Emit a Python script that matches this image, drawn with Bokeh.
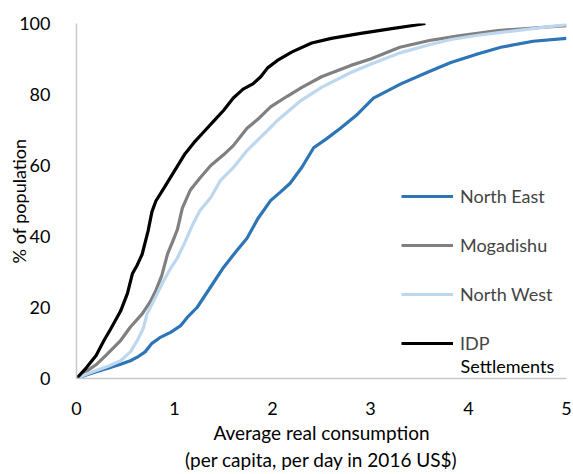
from bokeh.plotting import figure
from bokeh.models import Legend, LegendItem, FixedTicker, Label
from bokeh.embed import file_html
from bokeh.resources import INLINE

# Data
ne_x = [0, 0.1, 0.21, 0.33, 0.45, 0.55, 0.62, 0.7, 0.77, 0.85, 0.96, 1.06, 1.13, 1.23, 1.35, 1.5, 1.62, 1.74,
        1.85, 1.98, 2.08, 2.18, 2.3, 2.42, 2.55, 2.69, 2.85, 3.03, 3.31, 3.6, 3.82, 4.1, 4.33, 4.66, 5.0]
ne_y = [0, 1, 2, 3, 4, 5, 6, 7.5, 9.9, 11.5, 13, 14.8, 17.2, 20, 25, 31.3, 35.5, 39.5,
        45, 50.1, 52.5, 55, 59.5, 65, 67.5, 70.4, 74, 79, 83, 86.5, 89, 91.5, 93.3, 95, 95.8]

mog_x = [0, 0.1, 0.21, 0.3, 0.45, 0.55, 0.67, 0.75, 0.81, 0.87, 0.93, 0.98, 1.03, 1.08, 1.16, 1.26, 1.37, 1.5,
         1.6, 1.74, 1.85, 1.98, 2.15, 2.3, 2.5, 2.8, 3.0, 3.3, 3.6, 3.9, 4.3, 4.7, 5.0]
mog_y = [0, 2, 4.1, 6.5, 10.7, 14.5, 18.2, 21.5, 24.8, 29, 35.2, 38.5, 42, 48, 53, 56.5, 60, 63,
         65.6, 70.5, 73, 76.5, 79.5, 82, 85, 88.2, 90, 93.3, 95.2, 96.5, 98, 98.8, 99.4]

nw_x = [0, 0.1, 0.21, 0.33, 0.45, 0.55, 0.62, 0.68, 0.72, 0.8, 0.89, 0.96, 1.03, 1.1, 1.19, 1.26, 1.37, 1.47,
        1.6, 1.74, 1.95, 2.05, 2.29, 2.5, 2.8, 3.0, 3.31, 3.6, 3.82, 4.1, 4.33, 4.7, 5.0]
nw_y = [0, 1.2, 2.3, 3.5, 5, 7.5, 10.7, 14, 18.2, 22.5, 27.6, 31, 34, 38, 43.6, 47.3, 51, 55.8,
        59.4, 64.2, 69.9, 72.7, 78.3, 82, 86.2, 88.5, 91.8, 94, 95.5, 96.7, 97.5, 98.7, 99.7]

idp_x = [0, 0.1, 0.2, 0.28, 0.35, 0.45, 0.52, 0.57, 0.62, 0.67, 0.73, 0.77, 0.81, 0.9, 1.0, 1.1, 1.2, 1.3,
         1.4, 1.5, 1.6, 1.7, 1.8, 1.88, 1.95, 2.05, 2.2, 2.4, 2.6, 2.9, 3.2, 3.45, 3.56]
idp_y = [0, 3, 6.5, 10.7, 14, 19, 24, 29.5, 32, 35, 41.5, 47, 50, 54, 58.5, 63, 66.5, 69.5,
         72.5, 75.5, 79, 81.5, 83, 85, 87.5, 89.6, 92, 94.5, 95.8, 97.2, 98.5, 99.5, 100]

series_names = ["North East", "Mogadishu", "North West", "IDP"]
idp_label_second_line = "Settlements"
series_colors = ["#2E75B6", "#808080", "#BDD7EE", "#000000"]
x_ticks = [0, 1, 2, 3, 4, 5]
y_ticks = [0, 20, 40, 60, 80, 100]
x_title = "Average real consumption\n(per capita, per day in 2016 US$)"
y_title = "% of population"

FONT = "Lato"

p = figure(width=573, height=474, x_range=(0, 5), y_range=(0, 100),
           output_backend="svg", toolbar_location=None,
           min_border_left=76, min_border_right=7, min_border_top=23, min_border_bottom=96)
p.outline_line_color = None
p.grid.grid_line_color = None

renderers = []
for xs, ys, c in zip([ne_x, mog_x, nw_x, idp_x], [ne_y, mog_y, nw_y, idp_y], series_colors):
    r = p.line(xs, ys, line_color=c, line_width=3.2)
    renderers.append(r)

for ax in (p.xaxis, p.yaxis):
    ax.axis_line_color = "#C8C8C8"
    ax.axis_line_width = 1.5
    ax.major_tick_line_color = None
    ax.minor_tick_line_color = None
    ax.major_label_text_font = FONT
    ax.major_label_text_font_size = "18px"
    ax.major_label_text_color = "#000000"
    ax.axis_label_text_font = FONT
    ax.axis_label_text_font_style = "normal"
    ax.axis_label_text_color = "#000000"

p.xaxis.ticker = FixedTicker(ticks=x_ticks)
p.yaxis.ticker = FixedTicker(ticks=y_ticks)
p.xaxis.major_label_standoff = 17
p.yaxis.major_label_standoff = 20
p.xaxis.axis_label = x_title
p.xaxis.axis_label_text_font_size = "19px"
p.xaxis.axis_label_standoff = 3
p.yaxis.axis_label = y_title
p.yaxis.axis_label_text_font_size = "18px"
p.yaxis.axis_label_standoff = -14

items = [LegendItem(label=n, renderers=[r]) for n, r in zip(series_names, renderers)]
legend = Legend(items=items, location=(325, 24),
                background_fill_alpha=0, border_line_color=None,
                label_text_font=FONT, label_text_font_size="18px",
                glyph_width=52, label_standoff=7, spacing=27, padding=4, margin=0)
p.add_layout(legend, "center")

p.add_layout(Label(x=384, y=13, x_units="screen", y_units="screen", text=idp_label_second_line,
                   text_font=FONT, text_font_size="18px", text_color="#000000",
                   text_baseline="middle", text_align="left"))

open("out.html", "w").write(file_html(p, INLINE))
